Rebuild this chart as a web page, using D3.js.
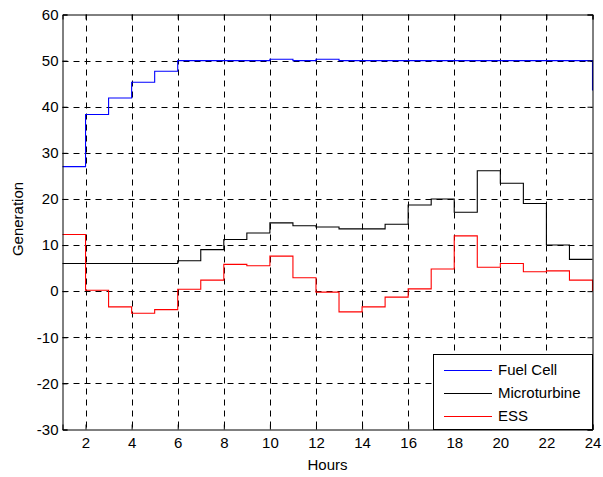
<!DOCTYPE html>
<html>
<head>
<meta charset="utf-8">
<script src="https://cdn.jsdelivr.net/npm/d3@7"></script>
<style>
  html, body { margin: 0; padding: 0; background: #fff; }
  svg { display: block; font-family: "Liberation Sans", Arial, sans-serif; }
</style>
</head>
<body>
<svg id="chart" width="603" height="477"></svg>
<script>
// Hourly generation schedule (stairs plot, hours 1..24)
const hours = d3.range(1, 25);

const fuelCell = [27.0, 38.3, 41.9, 45.3, 47.7, 50.0, 50.0, 50.0, 50.0, 50.3, 50.0, 50.3,
                  50.0, 50.0, 50.0, 50.0, 50.0, 50.0, 50.0, 50.0, 50.0, 50.0, 50.0, 43.5];
const microturbine = [6.0, 6.0, 6.0, 6.0, 6.0, 6.6, 9.0, 11.2, 12.6, 14.8, 14.2, 13.9,
                      13.5, 13.5, 14.5, 18.7, 20.0, 17.1, 26.1, 23.4, 19.0, 10.0, 6.9, 6.9];
const ess = [12.3, 0.2, -3.4, -4.8, -4.0, 0.4, 2.4, 5.8, 5.5, 7.6, 2.9, -0.2,
             -4.5, -3.4, -1.3, 0.5, 4.8, 12.0, 5.2, 6.0, 4.2, 4.4, 2.4, 0.0];

const seriesNames = ["Fuel Cell", "Microturbine", "ESS"];
const seriesColors = ["#0000ff", "#000000", "#ff0000"];
const seriesValues = [fuelCell, microturbine, ess];

const xTicks = d3.range(2, 25, 2);
const yTicks = d3.range(-30, 61, 10);

const svg = d3.select("#chart");
const plotL = 62.5, plotR = 592.5, plotT = 14.5, plotB = 429.5;

const x = d3.scaleLinear().domain([1, 24]).range([plotL, plotR]);
const y = d3.scaleLinear().domain([-30, 60]).range([plotB, plotT]);

// dashed grid
const grid = svg.append("g").attr("stroke", "#000").attr("stroke-width", 1)
  .attr("stroke-dasharray", "6,5");
grid.selectAll("line.gx").data(xTicks.filter(d => d < 24)).join("line")
  .attr("x1", d => Math.round(x(d)) + 0.5).attr("x2", d => Math.round(x(d)) + 0.5)
  .attr("y1", plotT).attr("y2", plotB);
grid.selectAll("line.gy").data(yTicks.filter(d => d > -30 && d < 60)).join("line")
  .attr("x1", plotL).attr("x2", plotR)
  .attr("y1", d => Math.round(y(d)) + 0.5).attr("y2", d => Math.round(y(d)) + 0.5);

// step lines
const line = d3.line()
  .x((d, i) => x(hours[i]))
  .y(d => y(d))
  .curve(d3.curveStepAfter);

svg.append("g").selectAll("path").data(seriesValues).join("path")
  .attr("fill", "none")
  .attr("stroke", (d, i) => seriesColors[i])
  .attr("stroke-width", 1.1)
  .attr("d", line);

// axes (ticks pointing inward, box on all four sides); plain hyphen for negatives
const fontSize = 15;
const plain = d => String(d);
const xAxis = d3.axisBottom(x).tickValues(xTicks).tickFormat(plain).tickSize(-5).tickPadding(8);
const yAxis = d3.axisLeft(y).tickValues(yTicks).tickFormat(plain).tickSize(-5).tickPadding(4);

const gx = svg.append("g").attr("transform", `translate(0,${plotB})`).call(xAxis);
const gy = svg.append("g").attr("transform", `translate(${plotL},0)`).call(yAxis);
const gxt = svg.append("g").attr("transform", `translate(0,${plotT})`)
  .call(d3.axisTop(x).tickValues(xTicks).tickSize(-5).tickFormat(""));
const gyr = svg.append("g").attr("transform", `translate(${plotR},0)`)
  .call(d3.axisRight(y).tickValues(yTicks).tickSize(-5).tickFormat(""));

[gx, gy, gxt, gyr].forEach(g => {
  g.select(".domain").attr("stroke", "#000");
  g.selectAll(".tick line").attr("stroke", "#000");
  g.selectAll(".tick text").attr("fill", "#000")
    .style("font-size", fontSize + "px")
    .style("font-family", '"Liberation Sans", Arial, sans-serif');
});

// axis labels
svg.append("text")
  .attr("x", (plotL + plotR) / 2).attr("y", 470)
  .attr("text-anchor", "middle")
  .style("font-size", fontSize + "px")
  .text("Hours");

svg.append("text")
  .attr("transform", `translate(23,219) rotate(-90)`)
  .attr("text-anchor", "middle")
  .style("font-size", fontSize + "px")
  .text("Generation");

// legend
const legend = svg.append("g");
legend.append("rect")
  .attr("x", 433.5).attr("y", 354.5).attr("width", 159).attr("height", 75)
  .attr("fill", "#fff").attr("stroke", "#000").attr("stroke-width", 1);

const rows = legend.selectAll("g.row").data(seriesNames).join("g")
  .attr("transform", (d, i) => `translate(0,${370 + i * 23})`);
rows.append("line")
  .attr("x1", 444).attr("x2", 492).attr("y1", 0.5).attr("y2", 0.5)
  .attr("stroke", (d, i) => seriesColors[i]).attr("stroke-width", 1);
rows.append("text")
  .attr("x", 498).attr("y", 0).attr("dy", "0.35em")
  .style("font-size", fontSize + "px")
  .text(d => d);
</script>
</body>
</html>
